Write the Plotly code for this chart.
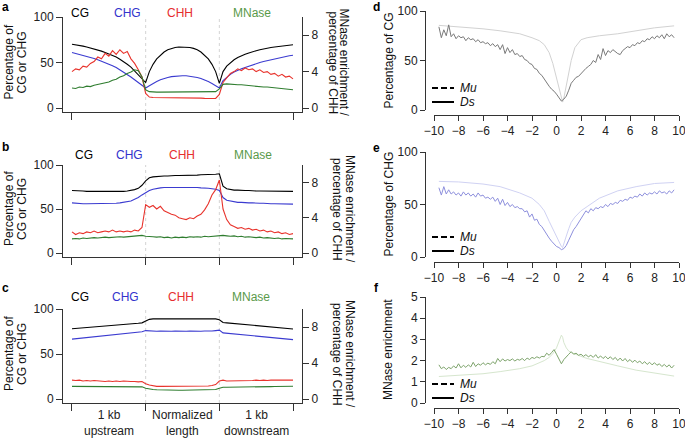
import plotly.graph_objects as go

W, H = 685, 438
FONT = "Liberation Sans, Arial, Helvetica, sans-serif"
AX = "#333333"

def fx(p):
    return p / W

def fy(p):
    return 1 - p / H

# ---------------- data: panels a-c (position along element) ----------------
pos = [0.0, 0.05, 0.1, 0.15, 0.2, 0.25, 0.3, 0.35, 0.4, 0.45,
       0.5, 0.55, 0.6, 0.65, 0.7, 0.75, 0.8, 0.85, 0.9, 0.95,
       1.0, 1.05, 1.1, 1.15, 1.2, 1.25, 1.3, 1.35, 1.4, 1.45,
       1.5, 1.55, 1.6, 1.65, 1.7, 1.75, 1.8, 1.85, 1.9, 1.95,
       2.0, 2.05, 2.1, 2.15, 2.2, 2.25, 2.3, 2.35, 2.4, 2.45,
       2.5, 2.55, 2.6, 2.65, 2.7, 2.75, 2.8, 2.85, 2.9, 2.95,
       3.0]
region_labels = ["1 kb<br>upstream", "Normalized<br>length", "1 kb<br>downstream"]
region_centers = [0.5, 1.5, 2.5]
series_names = ["CG", "CHG", "CHH", "MNase"]

a_cg = [70, 69.5, 68.8, 68, 67, 66, 65, 64, 62.5, 61,
        59.5, 58, 56, 53.5, 51, 48, 45, 41, 37, 33,
        28, 40, 48, 54, 58, 61.5, 64, 65.5, 66.5, 67,
        67, 67, 66.5, 65.5, 64, 61.5, 58, 54, 48, 40,
        27, 40, 46, 50, 53, 55.5, 57.5, 59, 60.5, 62,
        63, 64, 65, 65.5, 66.5, 67, 67.5, 68, 68.5, 69,
        69.5]
a_chg = [61, 60, 59, 58, 57, 55.5, 54.5, 53, 51.5, 50,
         48.5, 46.5, 44.5, 42, 39.5, 37, 34, 31, 28, 25,
         22, 24.5, 27, 29, 31, 32.5, 33.5, 34.5, 35, 35.5,
         35.5, 35.5, 35, 34.5, 33.5, 32.5, 31, 29, 27, 24.5,
         22, 30, 34, 37, 39.5, 41.5, 43, 44.5, 46, 47.5,
         49, 50, 51, 52, 53, 54, 55, 56, 57, 57.5,
         58]
a_chh = [4.0, 4.3, 4.2, 4.6, 4.5, 4.9, 5.1, 5.6, 5.4, 6.0,
         5.7, 6.3, 5.9, 6.4, 6.0, 6.2, 5.4, 4.9, 4.2, 3.4,
         1.6, 1.2, 1.15, 1.15, 1.15, 1.12, 1.12, 1.12, 1.1, 1.1,
         1.1, 1.1, 1.1, 1.08, 1.08, 1.08, 1.06, 1.06, 1.05, 1.05,
         1.5, 2.8, 3.3, 3.8, 4.0, 4.3, 4.1, 4.4, 4.2, 4.3,
         4.0, 4.2, 3.9, 4.0, 3.7, 3.8, 3.5, 3.7, 3.4, 3.5,
         3.2]
a_mn = [2.2, 2.15, 2.3, 2.25, 2.4, 2.35, 2.5, 2.6, 2.65, 2.8,
        2.85, 3.05, 3.15, 3.4, 3.55, 3.8, 3.95, 4.2, 4.1, 3.4,
        2.0, 1.8, 1.75, 1.75, 1.75, 1.75, 1.75, 1.75, 1.75, 1.75,
        1.75, 1.75, 1.75, 1.75, 1.75, 1.75, 1.75, 1.75, 1.75, 1.8,
        2.1, 2.6, 2.65, 2.6, 2.6, 2.55, 2.55, 2.5, 2.45, 2.45,
        2.4, 2.35, 2.3, 2.3, 2.25, 2.2, 2.2, 2.15, 2.1, 2.05,
        2.0]

b_cg = [71, 71, 70.5, 70.5, 70, 70, 70, 69.5, 69.5, 69.5,
        69.5, 69.5, 69.5, 70, 70, 70.5, 71, 72, 73.5, 77,
        82, 85.5, 86.5, 87, 87.5, 87.5, 87.5, 88, 88, 88,
        88, 88, 88.5, 88.5, 88.5, 89, 89, 89, 89.5, 89.5,
        90, 76, 73, 72, 71.5, 71.5, 71, 71, 71, 70.5,
        70.5, 70.5, 70.5, 70.5, 70, 70, 70, 70, 70, 70,
        70]
b_chg = [57, 56.5, 56.5, 56, 56, 56, 56, 56, 56, 56,
         56, 56.5, 56.5, 57, 57.5, 58, 59, 61, 63, 66,
         69, 71, 72.5, 73.5, 74, 74.5, 74.5, 75, 75, 74.5,
         75, 75, 74.5, 75, 74.5, 74, 74, 73.5, 73, 72.5,
         71, 63, 60, 59, 58, 57.5, 57.5, 57, 57, 57,
         56.5, 56.5, 56.5, 56, 56, 56, 56, 55.5, 55.5, 55.5,
         55.5]
b_chh = [2.4, 2.1, 2.3, 2.2, 2.4, 2.3, 2.5, 2.3, 2.4, 2.5,
         2.4, 2.6, 2.4, 2.5, 2.4, 2.5, 2.4, 2.6, 2.5, 2.9,
         5.5, 5.2, 5.4, 5.0, 5.3, 4.8, 4.6, 4.4, 4.3, 4.0,
         3.9, 3.8, 4.0, 3.9, 4.2, 4.4, 4.9, 5.6, 6.6, 7.2,
         8.3, 5.0, 3.8, 3.2, 3.0, 2.8, 2.9, 2.7, 2.8, 2.6,
         2.7, 2.5, 2.6, 2.4, 2.5, 2.3, 2.4, 2.2, 2.3, 2.1,
         2.2]
b_mn = [1.6, 1.65, 1.6, 1.7, 1.65, 1.7, 1.75, 1.7, 1.75, 1.8,
        1.75, 1.8, 1.8, 1.85, 1.8, 1.85, 1.9, 1.9, 1.95, 2.0,
        1.9, 1.9, 1.85, 1.8, 1.85, 1.75, 1.8, 1.7, 1.8, 1.75,
        1.8, 1.75, 1.85, 1.8, 1.85, 1.8, 1.9, 1.85, 1.9, 1.9,
        1.95, 2.0, 1.95, 1.9, 1.95, 1.85, 1.9, 1.8, 1.85, 1.8,
        1.75, 1.8, 1.7, 1.75, 1.7, 1.65, 1.7, 1.6, 1.65, 1.6,
        1.6]

c_cg = [78, 78.3, 78.6, 79, 79.3, 79.6, 80, 80.3, 80.6, 81,
        81.3, 81.6, 82, 82.3, 82.6, 83, 83.3, 83.7, 84.1, 84.6,
        87, 88.5, 89, 89, 89, 89, 89, 89, 89, 89,
        89, 89, 89, 89, 89, 89, 89, 89, 89, 89,
        88, 85, 84.6, 84.2, 83.8, 83.4, 83, 82.6, 82.2, 81.8,
        81.4, 81, 80.6, 80.2, 79.8, 79.4, 79, 78.7, 78.4, 78.1,
        77.8]
c_chg = [66.5, 66.9, 67.3, 67.7, 68.1, 68.5, 68.9, 69.3, 69.7, 70.1,
         70.5, 70.9, 71.3, 71.7, 72.1, 72.5, 72.9, 73.4, 73.9, 74.7,
         76, 75.5, 75.2, 75.3, 75.6, 75.4, 75.1, 75.3, 75.6, 75.3,
         75.0, 75.3, 75.5, 75.2, 75.0, 75.3, 75.6, 75.4, 75.5, 76,
         76.5, 73.5, 73.1, 72.7, 72.3, 71.9, 71.5, 71.1, 70.7, 70.3,
         69.9, 69.5, 69.1, 68.7, 68.3, 67.9, 67.5, 67.1, 66.7, 66.3,
         66]
c_chh = [2.1, 2.05, 2.1, 2.0, 2.05, 2.0, 2.05, 2.0, 2.0, 1.95,
         2.0, 1.95, 2.0, 1.95, 2.0, 1.95, 1.95, 1.95, 1.9, 1.95,
         1.7, 1.55, 1.45, 1.4, 1.4, 1.4, 1.4, 1.4, 1.4, 1.4,
         1.4, 1.4, 1.4, 1.4, 1.4, 1.4, 1.42, 1.45, 1.5, 1.6,
         2.0, 2.1, 2.0, 2.0, 2.05, 2.0, 2.05, 2.0, 2.05, 2.05,
         2.1, 2.05, 2.1, 2.05, 2.1, 2.1, 2.05, 2.1, 2.1, 2.05,
         2.1]
c_mn = [1.4, 1.4, 1.4, 1.4, 1.4, 1.4, 1.4, 1.4, 1.4, 1.4,
        1.4, 1.4, 1.4, 1.4, 1.4, 1.4, 1.4, 1.4, 1.38, 1.35,
        1.2, 1.1, 1.05, 1.02, 1.0, 1.0, 0.98, 0.98, 0.97, 0.97,
        0.97, 0.97, 0.98, 0.98, 1.0, 1.0, 1.0, 1.02, 1.03, 1.05,
        1.2, 1.3, 1.3, 1.3, 1.32, 1.32, 1.33, 1.33, 1.34, 1.35,
        1.35, 1.36, 1.37, 1.38, 1.38, 1.39, 1.4, 1.4, 1.41, 1.42,
        1.42]

# ---------------- data: panels d-f (distance, kb) ----------------
ds_x = [-9.6, -9.4, -9.2, -9.0, -8.8, -8.6, -8.4, -8.2, -8.0, -7.8,
        -7.6, -7.4, -7.2, -7.0, -6.8, -6.6, -6.4, -6.2, -6.0, -5.8,
        -5.6, -5.4, -5.2, -5.0, -4.8, -4.6, -4.4, -4.2, -4.0, -3.8,
        -3.6, -3.4, -3.2, -3.0, -2.8, -2.6, -2.4, -2.2, -2.0, -1.8,
        -1.6, -1.4, -1.2, -1.0, -0.8, -0.6, -0.4, -0.2, 0.0, 0.2,
        0.4, 0.6, 0.8, 1.0, 1.2, 1.4, 1.6, 1.8, 2.0, 2.2,
        2.4, 2.6, 2.8, 3.0, 3.2, 3.4, 3.6, 3.8, 4.0, 4.2,
        4.4, 4.6, 4.8, 5.0, 5.2, 5.4, 5.6, 5.8, 6.0, 6.2,
        6.4, 6.6, 6.8, 7.0, 7.2, 7.4, 7.6, 7.8, 8.0, 8.2,
        8.4, 8.6, 8.8, 9.0, 9.2, 9.4, 9.6]
d_ds = [84, 73, 81, 75, 86, 74, 77, 72, 75, 73,
        74, 70, 73, 71, 72, 69, 71, 68, 69, 67,
        68, 65, 67, 64, 66, 61, 66, 57, 63, 58,
        61, 56, 57, 54, 55, 51, 50, 47, 46, 42,
        41, 37, 35, 31, 28, 24, 21, 19, 16, 13,
        9, 11, 14, 20, 27, 30, 33, 34, 37, 40,
        42, 44, 46, 50, 48, 56, 51, 62, 55, 60,
        58, 61, 59, 57, 56, 60, 62, 64, 63, 66,
        65, 68, 67, 70, 69, 72, 71, 74, 72, 75,
        73, 76, 72, 77, 74, 76, 73]
e_ds = [66, 59, 67, 60, 64, 60, 62, 59, 61, 58,
        62, 59, 61, 58, 60, 57, 61, 58, 59, 56,
        57, 55, 57, 53, 56, 50, 55, 49, 52, 48,
        50, 47, 48, 46, 46, 43, 44, 38, 41, 35,
        36, 31, 29, 25, 22, 18, 15, 12, 10, 9,
        7, 8, 11, 16, 21, 26, 29, 33, 37, 41,
        44, 42, 46, 44, 47, 46, 48, 47, 50, 48,
        51, 50, 52, 51, 54, 53, 55, 54, 57, 56,
        58, 57, 60, 58, 61, 59, 61, 60, 62, 60,
        63, 61, 62, 60, 63, 61, 64]
f_ds = [1.8, 1.62, 1.7, 1.58, 1.68, 1.62, 1.75, 1.65, 1.85, 1.66,
        1.78, 1.68, 1.8, 1.7, 1.92, 1.72, 1.85, 1.78, 1.9, 1.8,
        1.88, 1.82, 1.95, 1.85, 2.1, 1.95, 2.08, 1.98, 2.05, 2.0,
        2.08, 1.98, 2.06, 2.02, 2.1, 2.0, 2.12, 2.05, 2.15, 2.1,
        2.18, 2.12, 2.2, 2.18, 2.35, 2.25, 2.38, 2.52, 2.3, 2.05,
        1.85, 2.05, 2.2, 2.3, 2.42, 2.3, 2.35, 2.25, 2.3, 2.2,
        2.28, 2.18, 2.25, 2.15, 2.28, 2.12, 2.22, 2.1, 2.2, 2.08,
        2.18, 2.05, 2.15, 2.0, 2.12, 1.98, 2.1, 1.95, 2.05, 1.92,
        2.02, 1.9, 1.98, 1.85, 1.95, 1.82, 1.92, 1.8, 1.9, 1.78,
        1.85, 1.72, 1.82, 1.7, 1.8, 1.65, 1.78]
mu_x = [-9.6, -8, -6, -4.6, -3, -2, -1.4, -1, -0.6, -0.3,
        0, 0.2, 0.4, 0.5, 0.6, 0.8, 1.0, 1.2, 1.5, 2.0,
        2.5, 3.5, 5, 6.5, 8, 9.6]
d_mu = [85.5, 84, 82, 80, 77, 73, 70, 66, 58, 47,
        32, 22, 11, 8, 12, 25, 38, 50, 63, 71,
        73, 75, 77, 80, 83, 85]
e_mu = [72, 71.5, 69.5, 67, 61, 56, 50, 44, 34, 27,
        19, 14, 10, 9, 12, 20, 27, 33, 38, 44,
        48, 56, 63, 67, 70, 71]
f_mu = [1.25, 1.3, 1.38, 1.48, 1.62, 1.75, 1.88, 2.0, 2.15, 2.32,
        2.6, 2.95, 3.2, 3.1, 2.85, 2.6, 2.45, 2.38, 2.3, 2.2,
        2.1, 1.95, 1.75, 1.55, 1.4, 1.27]
dist_ticks = [-10, -8, -6, -4, -2, 0, 2, 4, 6, 8, 10]
legend_names = ["Mu", "Ds"]

# ---------------- styling ----------------
COL = {"CG": "#000000", "CHG": "#3b3bd0", "CHH": "#e8332c", "MNase": "#2f7d2f"}
LABCOL = {"CG": "#000000", "CHG": "#3333cc", "CHH": "#e62e2e", "MNase": "#5a9a4a"}
tickfont = dict(family=FONT, size=12, color="#222222")

fig = go.Figure()
layout = {}
annotations = []
shapes = []

def ann(text, x, y, size=12, color="#111111", angle=0, bold=False, xanchor="center"):
    if bold:
        text = "<b>" + text + "</b>"
    annotations.append(dict(text=text, x=fx(x), y=fy(y), xref="paper", yref="paper",
                            showarrow=False, xanchor=xanchor, yanchor="middle", textangle=angle,
                            font=dict(family=FONT, size=size, color=color)))

left_panels = [
    dict(letter="a", top=17, zero=108, bottom=112, data=[a_cg, a_chg, a_chh, a_mn],
         lab_y=13, let_y=7, labx=[80, 127, 180, 252], rt=[343, 332]),
    dict(letter="b", top=165, zero=253, bottom=257, data=[b_cg, b_chg, b_chh, b_mn],
         lab_y=155, let_y=147, labx=[84, 129, 182, 253], rt=[350, 337]),
    dict(letter="c", top=309, zero=399, bottom=403, data=[c_cg, c_chg, c_chh, c_mn],
         lab_y=297, let_y=288, labx=[80, 126, 181, 251], rt=[350, 337]),
]

for i, p in enumerate(left_panels):
    xn = "" if i == 0 else str(i + 1)
    yl = "" if i == 0 else str(2 * i + 1)
    yr = str(2 * i + 2)
    ppu = (p["zero"] - p["top"]) / 100.0
    lo = -(p["bottom"] - p["zero"]) / ppu
    for k, name in enumerate(series_names):
        yax = "y" + yl if k < 2 else "y" + yr
        fig.add_trace(go.Scatter(x=pos, y=p["data"][k], xaxis="x" + xn, yaxis=yax, mode="lines",
                                 line=dict(color=COL[name], width=1.1), showlegend=False,
                                 name=name, hoverinfo="skip"))
    layout["xaxis" + xn] = dict(
        domain=[fx(63), fx(302)], range=[-0.122, 3.122], anchor="y" + yl, automargin=False,
        showline=True, linecolor=AX, linewidth=1, showgrid=False, zeroline=False,
        tickmode="array", tickvals=[0, 1, 2, 3], ticks="outside", ticklen=7, tickcolor=AX,
        showticklabels=False, fixedrange=True)
    layout["yaxis" + yl] = dict(
        domain=[fy(p["bottom"]), fy(p["top"])], range=[lo, 100], anchor="x" + xn,
        automargin=False,
        showline=True, linecolor=AX, linewidth=1, showgrid=False, zeroline=False,
        tickmode="array", tickvals=[0, 50, 100], ticks="outside", ticklen=6, tickcolor=AX,
        tickfont=tickfont)
    layout["yaxis" + yr] = dict(
        overlaying="y" + yl, side="right", anchor="x" + xn, range=[lo / 10.0, 10],
        automargin=False,
        showline=True, linecolor=AX, linewidth=1, showgrid=False, zeroline=False,
        tickmode="array", tickvals=[0, 4, 8], ticks="outside", ticklen=6, tickcolor=AX,
        tickfont=tickfont)
    for xv in (1, 2):
        shapes.append(dict(type="line", xref="x" + xn, yref="y" + yl, x0=xv, x1=xv, y0=lo, y1=100,
                           line=dict(color="#d4d4d4", width=1, dash="dot"), layer="below"))
    for k, name in enumerate(series_names):
        ann(name, p["labx"][k], p["lab_y"], size=12, color=LABCOL[name])
    ann(p["letter"], 5, p["let_y"], size=12, bold=True, color="#000")
    mid = (p["top"] + p["zero"]) / 2
    ann("Percentage of", 9, mid, size=12, angle=-90)
    ann("CG or CHG", 22, mid, size=12, angle=-90)
    ann("MNase enrichment /", p["rt"][0], mid, size=12, angle=90)
    ann("percentage of CHH", p["rt"][1], mid, size=12, angle=90)

# region labels under panel c, placed in data coordinates of its x axis
for xc, lab in zip(region_centers, region_labels):
    annotations.append(dict(text=lab, x=xc, xref="x3", y=fy(422.5), yref="paper",
                            showarrow=False, xanchor="center", yanchor="middle",
                            font=dict(family=FONT, size=12, color="#222222")))

right_panels = [
    dict(letter="d", top=11, zero=110, rng=[0, 100], tv=[0, 50, 100], ds=d_ds, mu=d_mu,
         ds_col="#7a7a7a", mu_col="#d2d2d2", title="Percentage of CG", let_y=7, leg_y=88),
    dict(letter="e", top=152, zero=257, rng=[0, 100], tv=[0, 50, 100], ds=e_ds, mu=e_mu,
         ds_col="#8e90dd", mu_col="#d0d2f3", title="Percentage of CHG", let_y=148, leg_y=237),
    dict(letter="f", top=297, zero=403, rng=[0, 5], tv=[0, 1, 2, 3, 4, 5], ds=f_ds, mu=f_mu,
         ds_col="#7ea46c", mu_col="#d6e6ce", title="MNase enrichment", let_y=288, leg_y=384),
]

for j, p in enumerate(right_panels):
    xn = str(4 + j)
    yn = str(7 + j)
    fig.add_trace(go.Scatter(x=mu_x, y=p["mu"], xaxis="x" + xn, yaxis="y" + yn, mode="lines",
                             line=dict(color=p["mu_col"], width=1), showlegend=False,
                             name="Mu", hoverinfo="skip"))
    fig.add_trace(go.Scatter(x=ds_x, y=p["ds"], xaxis="x" + xn, yaxis="y" + yn, mode="lines",
                             line=dict(color=p["ds_col"], width=1), showlegend=False,
                             name="Ds", hoverinfo="skip"))
    xline = p["zero"] + 5
    layout["xaxis" + xn] = dict(
        domain=[fx(434), fx(679)], range=[-10, 10], anchor="free", position=fy(xline),
        automargin=False, ticklabeloverflow="allow",
        showline=True, linecolor=AX, linewidth=1, showgrid=False, zeroline=False,
        tickmode="array", tickvals=dist_ticks, ticks="outside", ticklen=5, tickcolor=AX,
        tickfont=tickfont)
    layout["yaxis" + yn] = dict(
        domain=[fy(p["zero"]), fy(p["top"])], range=p["rng"], anchor="free", position=fx(425),
        automargin=False, ticklabeloverflow="allow",
        side="left", showline=True, linecolor=AX, linewidth=1, showgrid=False, zeroline=False,
        tickmode="array", tickvals=p["tv"], ticks="outside", ticklen=5, tickcolor=AX,
        tickfont=tickfont)
    ann(p["letter"], 376, p["let_y"], size=12, bold=True, color="#000")
    ann(p["title"], 388, (p["top"] + p["zero"]) / 2, size=12, angle=-90)
    # legend keys: dashed Mu, solid Ds (drawn in black as in the figure)
    for k, nm in enumerate(legend_names):
        yk = p["leg_y"] + 14 * k
        shapes.append(dict(type="line", xref="paper", yref="paper", x0=fx(432), x1=fx(454),
                           y0=fy(yk), y1=fy(yk),
                           line=dict(color="black", width=2, dash="6px,3px" if k == 0 else "solid")))
        ann("<i>" + nm + "</i>", 458, yk, size=12, color="#111", xanchor="left")

fig.update_layout(
    template="none",
    width=W, height=H, margin=dict(l=0, r=0, t=0, b=0, pad=0),
    paper_bgcolor="white", plot_bgcolor="white", showlegend=False,
    font=dict(family=FONT, size=12, color="#222"),
    annotations=annotations, shapes=shapes, hovermode=False,
    **layout)

# remove the browser's default 8px body margin so the figure sits at the page origin
fig.write_html("out.html",
               config={"displayModeBar": False, "staticPlot": True},
               post_script="document.body.style.margin='0';document.body.style.padding='0';")
